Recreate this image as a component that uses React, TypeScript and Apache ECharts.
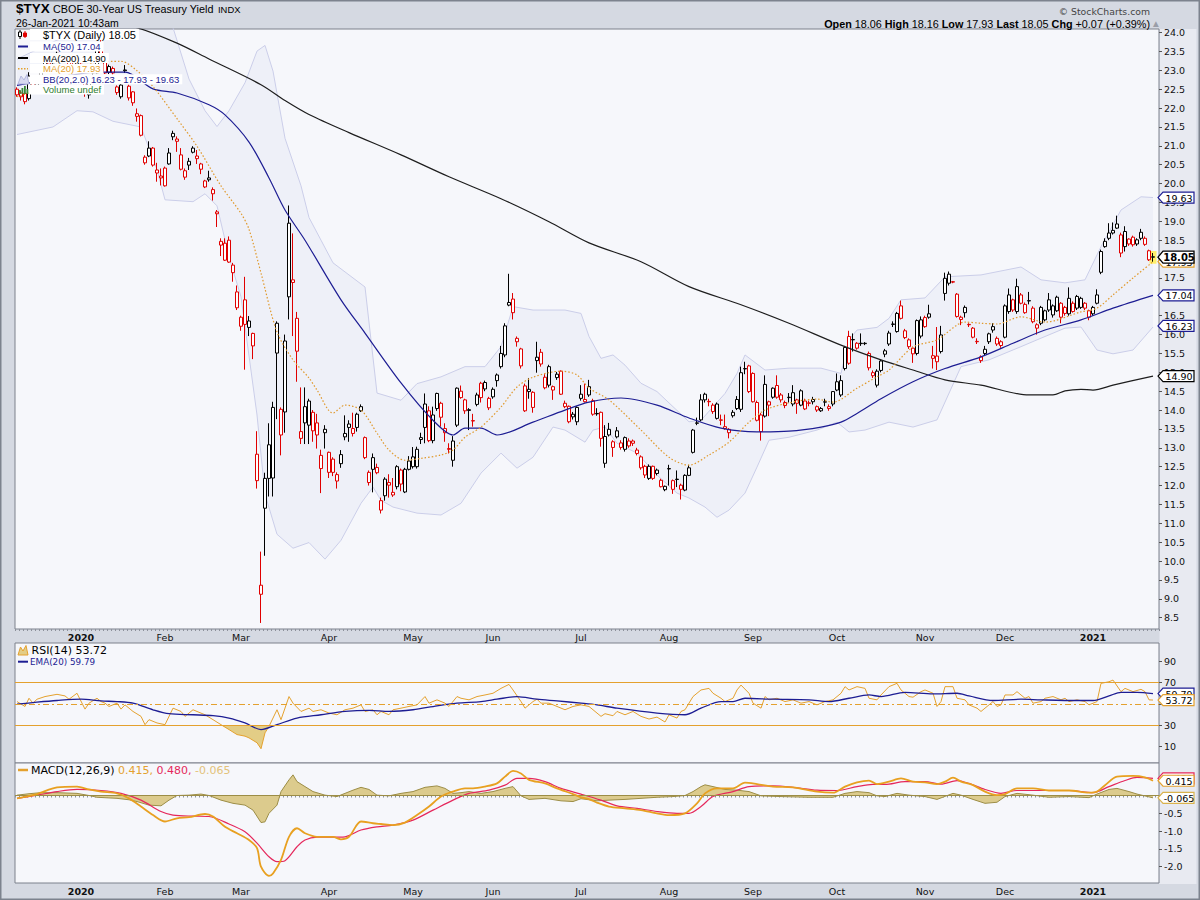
import React, { useEffect, useRef } from "react";
import * as echarts from "echarts";

// ---------- calendar ----------
const FIRST_DAY = "2019-12-09";
const HOLIDAYS = ["2019-12-25", "2020-01-01", "2020-01-20", "2020-02-17", "2020-04-10", "2020-05-25", "2020-07-03", "2020-09-07", "2020-11-26", "2020-12-25", "2021-01-01", "2021-01-18"];
const MONTHS = ["Jan", "Feb", "Mar", "Apr", "May", "Jun", "Jul", "Aug", "Sep", "Oct", "Nov", "Dec"];

// ---------- daily candles [open, high, low, close] ----------
const ohlc: number[][] = [
  // Dec 2019
  [22.50,22.55,22.30,22.35],[22.40,22.45,22.20,22.30],[22.39,22.42,22.10,22.17],[22.25,22.95,22.20,22.85],[22.70,22.85,22.45,22.55],
  [22.60,22.75,22.55,22.70],[22.80,23.10,22.75,23.05],[23.10,23.30,23.05,23.25],[23.20,23.25,23.00,23.15],[23.20,23.45,23.15,23.40],
  [23.40,23.50,23.30,23.45],[23.40,23.45,23.30,23.35],[23.35,23.40,23.25,23.30],[23.30,23.35,23.10,23.15],[23.15,23.20,23.00,23.10],
  [23.10,23.45,23.05,23.40],
  // Jan 2020
  [23.35,23.45,23.10,23.20],[22.80,22.85,22.30,22.40],[22.35,22.80,22.25,22.75],[22.93,23.10,22.85,23.03],[22.93,23.60,22.90,23.56],
  [23.53,23.80,23.25,23.30],[23.25,23.30,22.90,22.93],[22.95,23.15,22.90,23.10],[23.05,23.10,22.85,22.93],[22.56,22.60,22.35,22.41],
  [22.30,22.65,22.25,22.61],[22.99,23.14,22.93,23.01],[22.58,22.62,22.20,22.27],[22.43,22.45,22.06,22.14],[21.85,21.99,21.64,21.78],
  [21.80,21.83,21.25,21.28],[20.70,20.75,20.50,20.55],[20.73,21.12,20.70,20.94],[20.94,20.97,20.45,20.49],[20.36,20.55,20.05,20.28],
  [20.20,20.40,19.95,20.15],
  // Feb 2020
  [20.41,20.45,19.92,19.94],[20.52,20.94,20.50,20.81],[21.24,21.40,21.15,21.33],[21.18,21.25,20.84,21.12],[20.76,20.94,20.35,20.38],
  [20.34,20.40,20.10,20.17],[20.59,20.68,20.36,20.49],[20.83,20.99,20.80,20.94],[20.66,20.89,20.52,20.73],[20.52,20.55,20.25,20.38],
  [19.91,20.10,19.88,20.07],[20.10,20.34,20.05,20.15],[19.84,19.90,19.55,19.73],[19.25,19.30,18.85,19.20],[18.47,18.55,18.08,18.37],
  [18.42,18.55,17.95,17.97],[18.50,18.60,17.90,17.92],[17.64,17.90,17.40,17.84],[17.13,17.30,16.65,16.71],
  // Mar 2020
  [16.22,16.50,16.10,16.46],[16.92,17.53,15.07,16.27],[16.19,16.49,15.96,16.36],[16.03,16.05,15.35,15.70],[12.83,13.44,11.92,12.13],
  [9.12,10.25,8.36,9.36],[11.40,12.34,10.14,12.19],[12.19,13.65,11.71,13.08],[12.20,14.22,11.71,14.07],[16.30,16.35,13.76,15.51],
  [14.02,14.07,12.80,13.34],[13.95,16.00,13.40,15.83],[17.00,19.42,16.40,18.95],[17.45,18.68,15.96,17.38],[16.43,16.60,14.75,15.56],
  [13.25,14.60,13.10,13.43],[14.09,14.60,13.10,13.66],[13.60,14.30,13.10,14.24],[13.45,14.00,13.16,13.94],[13.66,13.90,12.98,13.34],
  [12.45,12.95,11.80,12.80],[13.40,13.60,12.98,13.49],
  // Apr 2020
  [12.35,12.90,12.20,12.88],[12.35,12.75,12.25,12.70],[12.29,12.35,11.92,12.12],[12.58,12.94,12.47,12.82],[13.38,13.86,13.20,13.29],
  [13.54,13.73,13.16,13.63],[13.38,13.93,13.30,13.51],[13.54,13.93,13.43,13.89],[13.98,14.15,13.95,14.09],[13.27,13.30,12.70,12.74],
  [12.35,12.40,12.00,12.08],[12.43,12.85,11.82,12.74],[12.48,12.58,12.30,12.34],[11.35,11.68,11.26,11.60],[11.73,12.22,11.60,12.17],
  [12.08,12.30,11.68,12.01],[11.82,12.20,11.70,11.75],[11.97,12.54,11.90,12.50],[12.41,12.45,11.85,12.04],[11.83,12.47,11.80,12.43],
  [12.43,12.78,12.40,12.65],
  // May 2020
  [12.50,13.02,12.45,12.76],[12.50,13.03,12.45,12.96],[13.22,13.40,13.10,13.27],[13.54,14.44,13.12,14.16],[13.98,14.10,13.15,13.19],
  [13.19,14.09,13.12,13.87],[14.04,14.46,13.98,14.44],[14.18,14.22,13.56,13.81],[13.51,13.65,13.16,13.40],[12.98,13.12,12.85,12.96],
  [12.67,13.31,12.50,13.18],[13.60,14.60,13.55,14.58],[14.50,14.65,14.30,14.33],[14.27,14.30,13.90,13.98],[13.99,14.05,13.47,14.01],
  [13.72,13.90,13.56,13.71],[14.15,14.46,14.10,14.40],[14.71,14.75,14.20,14.33],[14.56,14.78,14.50,14.73],[14.31,14.35,14.00,14.06],
  // Jun 2020
  [14.35,14.60,14.30,14.55],[14.93,14.97,14.62,14.78],[15.15,15.70,15.10,15.50],[15.46,16.30,15.40,16.23],[16.85,17.61,16.75,16.78],
  [16.94,17.10,16.40,16.58],[15.90,15.95,15.68,15.81],[15.62,15.65,15.10,15.17],[14.64,14.70,13.95,13.98],[14.55,14.85,14.30,14.49],
  [14.07,14.50,13.93,14.47],[15.31,15.81,14.99,15.40],[15.53,15.62,15.15,15.22],[14.87,14.95,14.55,14.59],[15.15,15.20,14.60,14.66],
  [14.53,14.65,14.27,14.62],[14.95,15.01,14.80,14.86],[15.03,15.05,14.40,14.42],[14.09,14.25,14.05,14.18],[14.10,14.12,13.65,13.69],
  [13.82,13.95,13.75,13.89],[13.69,14.10,13.60,14.07],
  // Jul 2020
  [14.42,14.66,14.25,14.31],[14.22,14.70,14.20,14.28],[14.62,14.80,14.35,14.40],[14.25,14.30,13.85,13.89],[13.90,14.05,13.85,13.91],
  [13.94,13.96,13.03,13.25],[12.59,13.60,12.47,13.30],[13.49,13.66,13.30,13.34],[13.16,13.20,12.76,13.01],[13.45,13.55,13.25,13.29],
  [13.13,13.20,12.95,13.01],[12.96,13.30,12.90,13.27],[13.05,13.25,13.00,13.18],[13.18,13.22,13.05,13.12],[12.94,13.00,12.80,12.85],
  [12.76,12.80,12.42,12.47],[12.51,12.55,12.20,12.28],[12.19,12.56,12.15,12.51],[12.51,12.53,12.15,12.19],[12.32,12.45,12.27,12.41],
  [12.14,12.18,11.95,11.97],[11.89,12.00,11.85,11.98],
  // Aug 2020
  [12.44,12.55,12.00,12.45],[12.13,12.16,11.78,11.90],[12.16,12.40,11.96,12.17],[11.90,12.05,11.63,12.01],[11.88,12.30,11.85,12.27],
  [12.27,12.55,12.25,12.47],[12.88,13.50,12.85,13.47],[13.65,13.80,13.60,13.66],[13.74,14.42,13.70,14.27],[14.27,14.46,14.20,14.42],
  [14.23,14.30,14.10,14.22],[14.13,14.18,13.90,13.96],[13.78,14.20,13.75,14.16],[13.74,13.88,13.60,13.73],[13.56,13.88,13.48,13.51],
  [13.40,13.52,13.25,13.49],[13.94,14.00,13.80,13.85],[14.28,14.37,14.00,14.04],[14.02,15.15,13.95,14.99],[15.09,15.28,14.95,15.10],
  [15.17,15.20,14.45,14.49],
  // Sep 2020
  [14.97,15.00,14.20,14.22],[14.20,14.25,13.70,13.73],[13.87,13.92,13.19,13.43],[13.84,14.92,13.80,14.68],[14.13,14.25,13.84,14.22],
  [14.34,14.60,14.30,14.58],[14.65,14.92,14.30,14.34],[14.40,14.45,14.20,14.27],[14.20,14.25,14.05,14.12],[14.33,14.45,14.20,14.34],
  [14.16,14.66,14.10,14.46],[14.18,14.30,13.90,14.27],[14.13,14.55,14.10,14.51],[14.03,14.30,14.00,14.24],[14.19,14.25,14.10,14.18],
  [14.28,14.35,14.15,14.22],[14.09,14.12,13.95,14.00],[13.98,14.08,13.95,14.04],[14.21,14.30,14.10,14.22],[14.09,14.15,13.98,14.04],
  [14.16,14.50,14.10,14.49],
  // Oct 2020
  [14.75,14.97,14.50,14.53],[14.40,14.92,14.35,14.78],[15.10,15.70,15.05,15.66],[15.95,16.10,15.20,15.24],[15.86,16.03,15.55,15.87],
  [15.77,15.80,15.60,15.64],[15.76,16.03,15.70,15.77],[15.76,15.80,15.72,15.77],[15.50,15.55,15.05,15.12],[14.91,15.05,14.85,14.99],
  [14.66,15.08,14.60,15.03],[15.05,15.35,15.00,15.30],[15.57,15.62,15.40,15.48],[15.75,16.10,15.70,16.04],[16.27,16.35,16.20,16.28],
  [16.08,16.60,16.05,16.56],[16.76,16.90,16.40,16.43],[16.10,16.15,15.88,15.92],[15.86,15.90,15.62,15.68],[15.49,15.68,15.25,15.64],
  [15.50,16.40,15.45,16.37],[15.96,16.48,15.90,16.39],
  // Nov 2020
  [16.45,16.50,16.18,16.21],[16.46,16.79,16.42,16.55],[15.37,15.70,15.10,15.44],[15.28,16.20,15.06,15.43],[15.55,16.23,15.50,15.99],
  [17.09,17.64,16.90,17.49],[17.36,17.67,17.30,17.60],[17.40,17.42,17.36,17.39],[17.07,17.10,16.45,16.48],[16.40,16.50,16.25,16.46],
  [16.72,16.77,16.45,16.58],[16.27,16.30,16.20,16.26],[15.93,16.20,15.90,16.17],[15.82,15.90,15.75,15.81],[15.41,15.45,15.25,15.31],
  [15.50,15.70,15.45,15.61],[15.81,16.05,15.75,16.02],[16.12,16.30,16.05,16.21],[15.90,15.95,15.70,15.75],[15.81,15.85,15.65,15.71],
  // Dec 2020
  [15.93,16.80,15.90,16.76],[16.61,17.22,16.55,17.05],[16.92,16.95,16.60,16.65],[16.61,17.48,16.55,17.27],[17.05,17.10,16.80,16.83],
  [16.80,16.85,16.55,16.58],[16.89,17.13,16.80,16.90],[16.70,16.75,16.30,16.34],[16.17,16.30,16.00,16.26],[16.72,16.76,16.25,16.30],
  [16.39,16.66,16.35,16.63],[16.92,17.10,16.60,16.65],[16.52,16.80,16.45,16.76],[16.63,17.03,16.60,16.99],[16.46,16.86,16.30,16.83],
  [16.72,16.76,16.50,16.56],[16.55,17.25,16.50,16.96],[16.83,16.88,16.58,16.61],[17.01,17.05,16.65,16.70],[16.96,17.00,16.68,16.72],
  [16.83,16.86,16.65,16.70],[16.63,16.66,16.38,16.46],
  // Jan 2021
  [16.72,16.76,16.50,16.55],[16.83,17.20,16.80,17.05],[17.65,18.25,17.60,18.20],[18.33,18.55,18.30,18.47],[18.55,18.95,18.50,18.69],
  [18.69,18.97,18.65,18.76],[18.93,19.15,18.80,18.82],[18.64,18.70,18.05,18.16],[18.33,18.87,18.20,18.73],[18.40,18.55,18.35,18.53],
  [18.58,18.62,18.33,18.38],[18.51,18.55,18.35,18.40],[18.55,18.80,18.50,18.71],[18.39,18.60,18.35,18.55],[18.22,18.25,17.95,17.98],
  [18.06,18.16,17.93,18.05],
];

// ---------- overlays, read as [day index, value] ----------
const ma200 = [[20,24.35],[30,24.13],[40,23.72],[48,23.3],[61,22.62],[67,22.2],[73,21.83],[83,21.35],[96,20.76],[108,20.18],[121,19.6],[133,18.99],[143,18.43],[156,17.93],[168,17.27],[181,16.79],[193,16.3],[206,15.72],[216,15.33],[224,15.06],[232,14.8],[241,14.66],[253,14.4],[259,14.4],[262,14.51],[266,14.55],[269,14.53],[274,14.66],[284,14.9]];
const ma50 = [[0,22.6],[10,22.8],[20,22.95],[27,22.95],[34,22.51],[40,22.4],[48,22.09],[52,21.82],[58,21.1],[63,20.15],[67,19.3],[72,18.5],[81,16.92],[87,16.04],[96,14.72],[104,13.73],[109,13.34],[112,13.52],[116,13.52],[120,13.34],[129,13.68],[137,14.0],[143,14.21],[151,14.32],[160,14.13],[168,13.79],[176,13.52],[185,13.42],[193,13.44],[201,13.55],[206,13.68],[210,13.91],[216,14.3],[224,14.75],[232,15.1],[241,15.41],[249,15.77],[257,16.12],[266,16.39],[274,16.7],[284,17.04]];
const ma20 = [[0,22.3],[8,22.6],[14,22.95],[19,23.2],[26,23.24],[30,22.99],[34,22.57],[40,21.72],[45,20.99],[51,19.94],[56,19.21],[58,18.79],[61,17.63],[65,16.07],[69,15.33],[73,14.85],[75,14.53],[79,13.92],[82,14.13],[86,14.0],[90,13.39],[93,12.94],[97,12.67],[101,12.72],[106,12.81],[109,12.94],[112,13.28],[116,13.55],[121,14.08],[125,14.61],[129,14.87],[136,15.03],[140,14.93],[143,14.58],[148,14.27],[156,13.47],[163,12.75],[168,12.54],[173,12.81],[178,13.15],[183,13.68],[187,14.0],[193,14.19],[200,14.29],[204,14.21],[210,14.58],[215,14.88],[218,15.06],[224,15.67],[230,15.86],[237,16.33],[241,16.3],[245,16.28],[251,16.47],[257,16.33],[266,16.6],[270,16.7],[274,17.05],[279,17.5],[284,17.93]];
const bbUpper = [[0,23.3],[10,23.8],[19,24.05],[28,24.2],[35,24.2],[39,24.13],[43,22.77],[47,21.93],[50,21.51],[53,21.93],[57,22.67],[60,23.51],[62,23.66],[64,22.98],[67,21.2],[71,19.94],[73,19.1],[76,18.5],[79,17.9],[84,17.5],[87,17.26],[90,14.45],[96,14.26],[100,14.7],[106,14.88],[112,15.15],[117,15.15],[121,15.68],[124,16.74],[129,16.65],[137,16.65],[141,16.56],[143,15.95],[146,15.37],[149,15.46],[152,15.19],[156,14.71],[160,14.49],[164,14.09],[168,13.69],[171,13.73],[177,14.44],[180,14.97],[182,15.46],[187,15.06],[193,15.11],[201,15.11],[206,14.97],[208,15.86],[210,16.12],[215,16.19],[218,16.43],[221,16.92],[227,16.97],[232,17.53],[241,17.58],[251,17.79],[256,17.45],[262,17.37],[267,17.45],[271,18.33],[276,19.3],[281,19.65],[284,19.63]];
const bbLower = [[0,21.3],[9,21.5],[15,21.93],[19,21.9],[24,21.65],[31,21.5],[35,20.37],[37,19.57],[44,19.52],[47,19.73],[50,19.41],[53,18.06],[56,17.0],[60,13.87],[62,11.77],[65,10.71],[69,10.34],[73,10.49],[77,10.05],[81,10.55],[86,11.53],[89,11.96],[91,11.61],[94,11.43],[100,11.27],[106,11.22],[111,11.53],[116,12.33],[121,12.86],[125,12.46],[129,12.75],[134,13.55],[137,13.47],[142,13.15],[144,13.47],[147,13.55],[150,13.12],[155,12.86],[160,12.28],[165,11.8],[168,11.67],[172,11.43],[175,11.16],[178,11.35],[182,11.8],[185,12.49],[188,13.2],[193,13.28],[200,13.47],[205,13.68],[208,13.42],[212,13.47],[218,13.68],[224,13.55],[230,13.74],[236,15.15],[243,15.33],[251,15.68],[255,15.86],[262,16.17],[266,16.2],[270,15.59],[274,15.49],[279,15.59],[284,16.2]];

// ---------- RSI(14) and its EMA(20) ----------
const rsi = [[0,52.3],[2,47.7],[3,55.4],[4,50.8],[5,54.5],[7,57],[10,59.1],[12,57.6],[13,54.5],[15,60.1],[17,45.2],[18,50.8],[20,55.4],[21,52.3],[22,50.8],[23,47.7],[25,50.8],[26,45.2],[27,49.2],[29,43],[31,38.4],[32,30.6],[33,35.3],[35,32.2],[37,30.6],[39,46.1],[41,43],[42,38.4],[44,44.6],[45,43],[47,39.9],[49,35.3],[51,30.6],[53,26],[55,21.3],[57,19.8],[58,18.2],[60,13.6],[61,8],[62,22.9],[63,29],[65,44.6],[66,35.3],[68,57],[69,50.8],[71,43],[73,46.1],[74,43],[76,44.6],[78,41.5],[80,39.9],[82,44.6],[84,46.1],[86,49.2],[87,43],[89,44.6],[90,39.9],[91,43],[93,39.9],[94,44.6],[96,46.1],[98,47.7],[100,49.2],[102,57],[103,50.8],[105,53.9],[107,50.8],[108,47.7],[110,57],[111,55.4],[113,53.9],[115,57],[117,58.5],[119,60.1],[121,64.7],[123,68.4],[124,63.2],[126,52.3],[127,46.1],[129,52.3],[130,54.5],[131,50.8],[133,50.8],[135,47.7],[137,44.6],[139,47.7],[141,49.2],[143,47.7],[146,38.4],[147,40.9],[149,39],[150,43],[152,39.9],[154,43],[156,38.4],[158,35.9],[160,37.7],[162,33.1],[163,39.9],[165,36.8],[166,43],[167,44.6],[169,57],[171,63.2],[173,64.7],[174,60.1],[176,55.4],[177,52.3],[179,55.4],[180,63.2],[181,67.8],[183,60.1],[184,50.8],[186,46.1],[187,57],[188,53.9],[190,55.4],[192,52.3],[194,53.9],[196,50.8],[198,52.3],[200,49.2],[202,52.3],[204,53.9],[206,60.1],[207,66.3],[208,63.2],[210,66.3],[212,64.7],[213,55.4],[215,53.9],[216,58.5],[218,66.3],[220,69.4],[221,63.2],[223,57],[224,56.4],[226,61.6],[227,63.2],[229,60.1],[230,47.7],[231,52.3],[232,66.3],[234,66.3],[235,55.4],[237,53.9],[238,49.2],[240,46.1],[241,43],[243,49.2],[244,52.3],[245,47.7],[246,49.2],[247,58.5],[249,58.5],[250,61.6],[252,55.4],[253,57],[254,50.8],[256,52.3],[257,55.4],[259,57],[261,53.9],[262,55.4],[263,52.3],[265,53.9],[267,52.3],[268,49.2],[270,52.3],[271,69.4],[273,70.9],[274,72.5],[276,61.6],[277,64.7],[279,61.6],[281,63.8],[282,61.6],[283,53.9],[284,53.72]];
const rsiOversold = [[51,30],[53,26],[55,21.3],[57,19.8],[58,18.2],[60,13.6],[61,8],[62,22.9],[63,30]];
const rsiEma = [[0,49.8],[5,51.7],[10,53.3],[16,54.5],[21,52.9],[25,52.3],[29,50.8],[34,44.6],[38,40.9],[44,39.9],[49,39],[53,36.8],[57,32.2],[61,26],[65,30.6],[70,36.8],[76,39.9],[82,43],[88,44],[93,43],[99,44.6],[105,48.3],[110,50.8],[116,52.3],[120,54.5],[125,57],[130,54.5],[135,52.9],[141,50.8],[145,49.2],[150,46.1],[160,41.5],[167,39.9],[171,46.1],[176,52.3],[179,52.3],[182,55.4],[189,54.5],[198,53.9],[203,52.3],[208,55.4],[213,58.5],[216,57],[222,61],[229,59.5],[235,60.1],[238,57.6],[244,53.3],[251,54.5],[256,53.9],[265,53.3],[269,53.3],[273,57.6],[276,61],[280,61],[284,59.79]];

// ---------- MACD(12,26,9) ----------
const macd = [[0,-0.08],[5,0.04],[10,0.23],[15,0.25],[18,0.17],[21,0.11],[25,0.06],[28,-0.08],[31,-0.31],[34,-0.55],[37,-0.73],[40,-0.64],[43,-0.61],[47,-0.52],[49,-0.59],[52,-0.88],[55,-1.06],[58,-1.25],[60,-1.48],[61,-2.0],[63,-2.26],[64,-2.19],[66,-1.81],[68,-1.16],[70,-0.92],[72,-1.06],[75,-1.16],[79,-1.16],[81,-1.23],[83,-1.16],[86,-0.73],[89,-0.78],[91,-0.8],[94,-0.83],[97,-0.76],[100,-0.55],[103,-0.31],[106,-0.03],[109,0.11],[112,0.2],[114,0.2],[117,0.25],[120,0.34],[122,0.53],[124,0.69],[126,0.62],[128,0.44],[132,0.34],[135,0.2],[139,0.04],[141,-0.05],[143,-0.1],[145,-0.2],[148,-0.31],[152,-0.36],[156,-0.41],[160,-0.5],[163,-0.55],[167,-0.5],[170,-0.22],[172,0.06],[175,0.2],[179,0.2],[182,0.36],[185,0.32],[189,0.25],[194,0.23],[200,0.11],[204,0.08],[207,0.25],[210,0.37],[213,0.42],[215,0.32],[218,0.39],[221,0.48],[224,0.39],[227,0.37],[230,0.32],[232,0.39],[234,0.5],[236,0.39],[239,0.29],[242,0.11],[245,0.01],[247,0.04],[250,0.2],[254,0.2],[258,0.14],[263,0.14],[268,0.08],[270,0.11],[272,0.29],[275,0.53],[279,0.55],[282,0.51],[284,0.415]];
const macdSignal = [[0,-0.08],[5,0.01],[10,0.11],[15,0.17],[21,0.14],[26,0.06],[31,-0.13],[36,-0.45],[39,-0.55],[44,-0.58],[48,-0.59],[53,-0.8],[57,-1.02],[60,-1.34],[63,-1.72],[65,-1.86],[67,-1.83],[70,-1.44],[72,-1.25],[75,-1.17],[79,-1.17],[82,-1.16],[86,-0.97],[90,-0.88],[94,-0.83],[99,-0.69],[104,-0.41],[109,-0.13],[113,0.06],[118,0.15],[122,0.29],[125,0.48],[128,0.48],[132,0.39],[136,0.2],[141,0.04],[146,-0.13],[150,-0.29],[155,-0.36],[160,-0.45],[165,-0.5],[168,-0.5],[171,-0.31],[174,-0.03],[179,0.11],[183,0.25],[189,0.27],[194,0.23],[200,0.15],[205,0.14],[210,0.25],[214,0.31],[217,0.31],[222,0.39],[227,0.39],[231,0.32],[235,0.42],[238,0.34],[242,0.17],[246,0.06],[250,0.14],[256,0.14],[263,0.14],[269,0.08],[273,0.25],[277,0.42],[280,0.51],[284,0.48]];
const macdHist = [[0,0.01],[3,0.05],[6,0.08],[10,0.08],[15,0.06],[18,0],[20,-0.05],[25,-0.08],[28,-0.12],[30,-0.17],[33,-0.27],[36,-0.29],[38,-0.13],[40,0],[43,0.01],[46,0.04],[48,0],[51,-0.13],[54,-0.22],[57,-0.27],[59,-0.41],[61,-0.76],[62,-0.74],[63,-0.5],[65,-0.27],[66,0.11],[68,0.44],[69,0.58],[70,0.39],[72,0.25],[74,0.11],[77,0.01],[80,-0.03],[82,0.06],[84,0.15],[86,0.23],[88,0.17],[90,0.01],[93,-0.01],[96,0.06],[99,0.11],[102,0.23],[105,0.27],[107,0.2],[109,0.06],[111,0.08],[113,0.11],[116,0.06],[119,0.11],[122,0.2],[124,0.25],[126,-0.01],[128,-0.11],[132,-0.08],[136,-0.15],[139,-0.17],[141,-0.09],[145,-0.15],[148,-0.13],[152,-0.11],[156,-0.08],[160,-0.05],[164,-0.03],[167,0],[169,0.11],[171,0.25],[172,0.3],[174,0.25],[177,0.17],[180,0.15],[183,0.11],[186,-0.01],[191,-0.03],[198,-0.05],[204,-0.05],[207,0.06],[210,0.11],[213,0.08],[215,-0.01],[217,-0.03],[220,0.06],[223,0.01],[227,-0.03],[230,-0.11],[234,0.06],[236,0.01],[239,-0.11],[242,-0.22],[245,-0.19],[247,-0.03],[250,0.06],[254,0.01],[258,-0.05],[263,-0.03],[268,-0.06],[270,0.04],[273,0.17],[275,0.2],[278,0.11],[280,0.04],[284,-0.065]];

// ---------- axis ticks and labels ----------
const priceTicks = [8.5,9,9.5,10,10.5,11,11.5,12,12.5,13,13.5,14,14.5,15,15.5,16,16.5,17,17.5,18,18.5,19,19.5,20,20.5,21,21.5,22,22.5,23,23.5,24];
const priceLabels = [8.5,9,9.5,10,10.5,11,11.5,12,12.5,13,13.5,14,14.5,15,15.5,16,16.5,17.5,18.5,19,19.5,20,20.5,21,21.5,22,22.5,23,23.5,24];
const rsiTicks = [10, 30, 50, 70, 90];
const rsiLabels = [10, 30, 70, 90];
const macdTicks = [-2, -1.5, -1, -0.5, 0, 0.5];
const macdLabels = [-2, -1.5, -1, -0.5];

// ---------- last-value tags ----------
const NAVY = "#1d1d93";
const ORANGE = "#e4a12e";
const CRIMSON = "#e5285c";
const TAN = "#d9b24c";
const priceTags = [
  { v: 19.63, t: "19.63", c: NAVY },
  { v: 17.04, t: "17.04", c: NAVY },
  { v: 16.23, t: "16.23", c: NAVY },
  { v: 14.9, t: "14.90", c: "#000" },
  { v: 17.93, t: "17.93", c: ORANGE },
  { v: 18.05, t: "18.05", c: "#000", bold: true },
];
const rsiTags = [
  { v: 59.79, t: "59.79", c: NAVY },
  { v: 53.72, t: "53.72", c: ORANGE },
];
const macdTags = [
  { v: 0.48, t: "0.480", c: CRIMSON },
  { v: 0.415, t: "0.415", c: ORANGE },
  { v: -0.065, t: "-0.065", c: TAN },
];

const DV = '"DejaVu Sans", Verdana, sans-serif';
const AR = '"Liberation Sans", Arial, sans-serif';

function tradingDays(first: string, count: number): string[] {
  const hol = new Set(HOLIDAYS);
  const out: string[] = [];
  const [y, m, d] = first.split("-").map(Number);
  let t = Date.UTC(y, m - 1, d);
  while (out.length < count) {
    const dt = new Date(t);
    const wd = dt.getUTCDay();
    const s = dt.toISOString().slice(0, 10);
    if (wd !== 0 && wd !== 6 && !hol.has(s)) out.push(s);
    t += 86400000;
  }
  return out;
}

function buildOption() {
  const dates = tradingDays(FIRST_DAY, ohlc.length);
  const cats = dates.concat([""]);
  const labelSet = new Set<number>();
  for (let i = 1; i < dates.length; i++) {
    if (dates[i].slice(0, 7) !== dates[i - 1].slice(0, 7)) labelSet.add(i);
  }
  const fmtDate = (v: string) => {
    if (!v) return "";
    const mo = Number(v.slice(5, 7));
    return mo === 1 ? `{y|${v.slice(0, 4)}}` : MONTHS[mo - 1];
  };

  const candles = ohlc.map(([o, h, l, c], k) => {
    const prev = k > 0 ? ohlc[k - 1][3] : o;
    const col = c >= prev ? "#000000" : "#e00000";
    return {
      value: [o, c, l, h],
      itemStyle: { color: "#ffffff", color0: col, borderColor: col, borderColor0: col, borderColorDoji: col, borderWidth: 1 },
    };
  });

  const gridBase = { left: 15, width: 1144, show: true, backgroundColor: "#f6f7fb", borderColor: "#7c818c", borderWidth: 1 };

  const xAxes = [0, 1, 2].map((g) => ({
    type: "category",
    gridIndex: g,
    data: cats,
    boundaryGap: true,
    axisLine: { show: false },
    axisTick: { show: g !== 1, interval: 0, length: 2, lineStyle: { color: "#8d919b", width: 1 } },
    axisLabel: {
      show: g !== 1,
      interval: (idx: number) => labelSet.has(idx),
      formatter: (v: string) => fmtDate(v),
      margin: 3,
      fontSize: 9.5,
      fontFamily: DV,
      color: "#111",
      rich: { y: { fontWeight: "bold", fontSize: 9.5, fontFamily: DV, color: "#111" } },
    },
    splitLine: { show: false },
  }));

  const yBase = (g: number, min: number, max: number, ticks: number[], labels: number[], fmt: (v: number) => string) => ({
    type: "value",
    gridIndex: g,
    position: "right",
    min,
    max,
    axisLine: { show: false },
    splitLine: { show: false },
    axisTick: { show: true, length: 3, customValues: ticks, lineStyle: { color: "#555" } },
    axisLabel: { customValues: labels, formatter: fmt, margin: 5, fontSize: 9.5, fontFamily: DV, color: "#111" },
  });

  const line = (data: number[][], xi: number, color: string, width: number, extra: any = {}) => ({
    type: "line",
    xAxisIndex: xi,
    yAxisIndex: xi,
    data,
    showSymbol: false,
    symbol: "none",
    silent: true,
    clip: true,
    lineStyle: { color, width },
    ...extra,
  });

  return {
    animation: false,
    backgroundColor: "transparent",
    grid: [
      { ...gridBase, top: 29, height: 600 },
      { ...gridBase, top: 643, height: 120 },
      { ...gridBase, top: 763, height: 120 },
    ],
    xAxis: xAxes,
    yAxis: [
      yBase(0, 8.2, 24.095, priceTicks, priceLabels, (v) => v.toFixed(1)),
      yBase(1, -5.4, 107.3, rsiTicks, rsiLabels, (v) => String(v)),
      yBase(2, -2.458, 0.913, macdTicks, macdLabels, (v) => v.toFixed(1)),
    ],
    series: [
      {
        type: "custom",
        xAxisIndex: 0,
        yAxisIndex: 0,
        silent: true,
        z: 1,
        data: [[0, 16]],
        renderItem: (params: any, api: any) => {
          const up = bbUpper.map((p) => api.coord(p));
          const lo = bbLower.slice().reverse().map((p) => api.coord(p));
          const cs = params.coordSys;
          return {
            type: "polygon",
            shape: { points: up.concat(lo) },
            style: { fill: "rgba(200,204,236,0.16)", stroke: "none" },
            clipPath: { type: "rect", shape: { x: cs.x, y: cs.y, width: cs.width, height: cs.height } },
          };
        },
      },
      line(bbUpper, 0, "#cbcee9", 1, { z: 2 }),
      line(bbLower, 0, "#cbcee9", 1, { z: 2 }),
      {
        type: "candlestick",
        xAxisIndex: 0,
        yAxisIndex: 0,
        data: candles,
        barWidth: 3.5,
        silent: true,
        z: 3,
      },
      line(ma200, 0, "#1e1e1e", 1.2, { z: 4, smooth: 0.3 }),
      line(ma50, 0, NAVY, 1.2, { z: 4, smooth: 0.3 }),
      line(ma20, 0, "#e0992c", 1.2, { z: 4, smooth: 0.3, lineStyle: { color: "#e0992c", width: 1.2, type: [1.5, 2] } }),
      line(rsiOversold, 1, ORANGE, 0, { z: 2, lineStyle: { width: 0, opacity: 0 }, areaStyle: { origin: 30, color: "#e3cd86", opacity: 1 } }),
      line(rsi, 1, ORANGE, 1, {
        z: 4,
        markLine: {
          silent: true,
          symbol: ["none", "none"],
          label: { show: false },
          data: [
            { yAxis: 70, lineStyle: { color: ORANGE, width: 1.2, type: "solid" } },
            { yAxis: 30, lineStyle: { color: ORANGE, width: 1.2, type: "solid" } },
            { yAxis: 50, lineStyle: { color: ORANGE, width: 1, type: [6, 3, 2, 3] } },
          ],
        },
      }),
      line(rsiEma, 1, NAVY, 1.3, { z: 4, smooth: 0.3 }),
      line(macdHist, 2, "#9c8d46", 1, {
        z: 2,
        areaStyle: { color: "#dccb8d", opacity: 1 },
        markLine: {
          silent: true,
          symbol: ["none", "none"],
          label: { show: false },
          data: [{ yAxis: 0, lineStyle: { color: "#9c8d46", width: 1, type: "solid" } }],
        },
      }),
      line(macdSignal, 2, CRIMSON, 1.2, { z: 4, smooth: 0.3 }),
      line(macd, 2, "#e8a020", 1.8, { z: 5, smooth: 0.3 }),
    ],
  };
}

function txt(x: number, y: number, text: string, o: any = {}) {
  const style: any = {
    text,
    fill: o.fill || "#000",
    fontSize: o.size || 10,
    fontFamily: o.family || DV,
    fontWeight: o.weight || "normal",
    align: o.align || "left",
    verticalAlign: "middle",
    textAlign: o.align || "left",
    textVerticalAlign: "middle",
  };
  if (o.bg) style.backgroundColor = o.bg;
  if (o.pad) style.padding = o.pad;
  if (o.rich) style.rich = o.rich;
  return { type: "text", x, y, z: o.z || 20, silent: true, style };
}

function buildGraphics(chart: any) {
  const yP = (ax: number, v: number) => chart.convertToPixel({ yAxisIndex: ax }, v) as number;
  const xP = (i: number) => chart.convertToPixel({ xAxisIndex: 0 }, i) as number;
  const g: any[] = [];

  // label column on the right
  g.push({ type: "rect", silent: true, z: -5, shape: { x: 1159.5, y: 29, width: 37, height: 855 }, style: { fill: "#e8eaf1" } });

  // header
  g.push(txt(16, 8.5, "$TYX", { family: AR, size: 13.5, weight: "bold" }));
  g.push(txt(53, 9, "CBOE 30-Year US Treasury Yield", { family: AR, size: 10.8 }));
  g.push(txt(218, 9.5, "INDX", { family: AR, size: 9.4 }));
  g.push(txt(16, 22.5, "26-Jan-2021 10:43am", { family: AR, size: 10.5 }));
  g.push(txt(1150, 11, "\u00A9 StockCharts.com", { family: DV, size: 9.3, fill: "#444", align: "right" }));
  g.push(
    txt(1150, 24, "{b|Open} 18.06 {b|High} 18.16 {b|Low} 17.93 {b|Last} 18.05 {b|Chg} +0.07 (+0.39%)", {
      family: AR,
      size: 10.8,
      align: "right",
      rich: { b: { fontWeight: "bold", fontFamily: AR, fontSize: 10.8, fill: "#000" } },
    })
  );
  g.push(txt(1153, 23.5, "\u25B2", { family: DV, size: 7.5, fill: "#9a9ea8" }));

  // main legend
  const rows = [
    { y: 34.5, t: "$TYX (Daily) 18.05", c: "#000", s: 11 },
    { y: 46.5, t: "MA(50) 17.04", c: NAVY, s: 9.5 },
    { y: 58, t: "MA(200) 14.90", c: "#000", s: 9.5 },
    { y: 68.8, t: "MA(20) 17.93", c: ORANGE, s: 9.5 },
    { y: 79.3, t: "BB(20,2.0) 16.23 - 17.93 - 19.63", c: NAVY, s: 9.5 },
    { y: 89.5, t: "Volume undef", c: "#2f7d2f", s: 9.5 },
  ];
  rows.forEach((r) => g.push(txt(30, r.y, r.t, { family: AR, fill: r.c, size: r.s, bg: "#ffffff", pad: [0, 3, 0, 13], z: 50 })));
  // icons
  g.push({ type: "line", z: 51, silent: true, shape: { x1: 20, y1: 30, x2: 20, y2: 39 }, style: { stroke: "#000", lineWidth: 1 } });
  g.push({ type: "rect", z: 52, silent: true, shape: { x: 18.5, y: 32, width: 3, height: 4.5 }, style: { fill: "#fff", stroke: "#000", lineWidth: 1 } });
  g.push({ type: "line", z: 51, silent: true, shape: { x1: 25, y1: 31, x2: 25, y2: 38 }, style: { stroke: "#e00000", lineWidth: 1 } });
  g.push({ type: "rect", z: 52, silent: true, shape: { x: 23.5, y: 33, width: 3, height: 3.5 }, style: { fill: "#e00000", stroke: "#e00000", lineWidth: 1 } });
  g.push({ type: "line", z: 51, silent: true, shape: { x1: 18, y1: 46.5, x2: 28, y2: 46.5 }, style: { stroke: NAVY, lineWidth: 2 } });
  g.push({ type: "line", z: 51, silent: true, shape: { x1: 18, y1: 58, x2: 28, y2: 58 }, style: { stroke: "#000", lineWidth: 2 } });
  g.push({ type: "line", z: 51, silent: true, shape: { x1: 18, y1: 68.8, x2: 28, y2: 68.8 }, style: { stroke: ORANGE, lineWidth: 1.5, lineDash: [1.5, 1.5] } });
  g.push({ type: "polygon", z: 51, silent: true, shape: { points: [[18, 84], [21, 76], [24, 80], [27, 74.5], [29, 84]] }, style: { fill: "#d7d9ef", stroke: "#b3b7de", lineWidth: 1 } });
  [[19, 4], [21.5, 6], [24, 8], [26.5, 5]].forEach(([x, h]) =>
    g.push({ type: "rect", z: 51, silent: true, shape: { x, y: 94 - h, width: 1.8, height: h }, style: { fill: "#3a8a3a" } })
  );

  // RSI legend
  g.push({ type: "polygon", z: 51, silent: true, shape: { points: [[18, 655], [20.5, 647], [23, 651], [26, 645.5], [28, 655]] }, style: { fill: "#e3cd86", stroke: ORANGE, lineWidth: 1 } });
  g.push(txt(31.5, 650.7, "RSI(14) 53.72", { size: 11 }));
  g.push({ type: "line", z: 51, silent: true, shape: { x1: 18, y1: 661.7, x2: 28, y2: 661.7 }, style: { stroke: NAVY, lineWidth: 2 } });
  g.push(txt(30, 661.7, "EMA(20) 59.79", { size: 8.8, fill: NAVY }));

  // MACD legend
  g.push({ type: "line", z: 51, silent: true, shape: { x1: 18, y1: 770, x2: 28, y2: 770 }, style: { stroke: ORANGE, lineWidth: 2.5 } });
  g.push(
    txt(31, 770, "{k|MACD(12,26,9)} {o|0.415,} {r|0.480,} {t|-0.065}", {
      size: 11,
      rich: {
        k: { fill: "#000", fontSize: 11, fontFamily: DV },
        o: { fill: ORANGE, fontSize: 11, fontFamily: DV },
        r: { fill: CRIMSON, fontSize: 11, fontFamily: DV },
        t: { fill: "#e3c27a", fontSize: 11, fontFamily: DV },
      },
    })
  );

  // current bar highlight
  const last = ohlc.length - 1;
  const lx = xP(last);
  const yh = yP(0, ohlc[last][1]);
  const yl = yP(0, ohlc[last][2]);
  g.push({ type: "rect", z: 1, silent: true, shape: { x: lx - 3.5, y: yh - 2, width: 7, height: yl - yh + 4 }, style: { fill: "#fff06a" } });

  // value tags
  let z = 100;
  const tag = (ax: number, tg: any) => {
    const y = yP(ax, tg.v);
    const h = tg.bold ? 6 : 5.5;
    g.push({
      type: "polygon",
      z: z++,
      silent: true,
      shape: { points: [[1158, y], [1163, y - h], [1194, y - h], [1194, y + h], [1163, y + h]] },
      style: { fill: "#ffffff", stroke: tg.c, lineWidth: tg.bold ? 1.3 : 1.2 },
    });
    g.push(txt(1179, y + 0.5, tg.t, { size: tg.bold ? 10 : 9.5, weight: tg.bold ? "bold" : "normal", align: "center", z: z++ }));
  };
  priceTags.forEach((t) => tag(0, t));
  rsiTags.forEach((t) => tag(1, t));
  macdTags.forEach((t) => tag(2, t));

  // outer border
  g.push({ type: "rect", z: 300, silent: true, shape: { x: 0.75, y: 0.75, width: 1198.5, height: 898.5 }, style: { fill: "none", stroke: "#7d838e", lineWidth: 1.5 } });
  return g;
}

export default function App() {
  const ref = useRef<HTMLDivElement>(null);
  useEffect(() => {
    if (!ref.current) return;
    const chart = echarts.init(ref.current, null, { renderer: "svg" });
    chart.setOption(buildOption() as any);
    chart.setOption({ graphic: buildGraphics(chart) } as any);
    return () => chart.dispose();
  }, []);
  return (
    <div
      ref={ref}
      style={{ position: "fixed", left: 0, top: 0, width: 1200, height: 900, background: "#d5d9e2" }}
    />
  );
}
